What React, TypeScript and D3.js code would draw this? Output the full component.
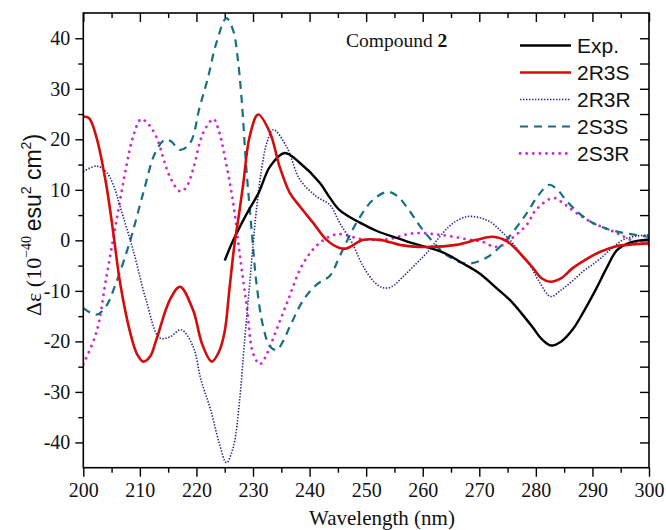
import React, { useEffect, useRef } from 'react'
import * as d3 from 'd3'

// CD spectra, [wavelength nm, delta epsilon]
const expData: [number, number][] = [
  [225, -4], [226.5, 0], [229, 5.5], [231, 9.4], [233, 14.6], [235.6, 17.3], [238.3, 15.3],
  [241.8, 11.4], [243.6, 8.4], [245.3, 6], [248.9, 3.5], [252, 1.8], [255.4, 0.5], [258, -0.5],
  [261.2, -1.5], [264, -2.6], [267, -4.5], [270, -6.5], [273, -9.4], [275.4, -11.8], [277.5, -14.5],
  [279.5, -17.3], [281, -19.5], [282.7, -20.8], [284.5, -20], [286.6, -17.5], [288.5, -14],
  [290.7, -9.5], [292.5, -5.5], [294.3, -2], [296.5, -0.5], [300, 0.2]
]

const r3sData: [number, number][] = [
  [200, 24.5], [201, 24.2], [202.3, 20.5], [204, 11.4], [205.3, 1.5], [206.5, -8.4], [208.3, -18.3],
  [209.5, -22.5], [210.6, -24], [211.8, -23], [212.9, -19.7], [215.3, -11.8], [217.1, -9.2],
  [219.4, -13.8], [221, -20.5], [222.7, -24], [224, -22], [225, -18], [225.8, -10], [226.7, -1],
  [227.5, 5], [228.3, 11.4], [229.4, 20.5], [230.9, 24.9], [233, 21.3], [234.7, 14.6], [236.5, 9.4],
  [238.3, 6.7], [240.6, 3.5], [243, 0.1], [245.3, -1.5], [246.5, -1.6], [249.5, 0.1], [252.4, 0.1],
  [256.5, -1], [261.2, -1.3], [265.9, -0.9], [269.5, 0.1], [272.4, 0.7], [274.9, -0.2], [277.7, -3.2],
  [279.5, -5.5], [281, -7.5], [282.6, -8.2], [284.5, -7.5], [286.5, -5.5], [288.8, -3.8],
  [291.5, -2.2], [294.1, -1.2], [297, -0.8], [300, -0.6]
]

const r3rData: [number, number][] = [
  [200, 13.6], [202.3, 14.7], [204, 13.6], [205.3, 11], [206.5, 6.7], [208.8, -1.9], [211.1, -11.8],
  [213.5, -19.3], [215.3, -19.1], [217.3, -17.7], [219.4, -21], [220.8, -27.6], [222.5, -33.5],
  [224, -40], [225.3, -44], [226.5, -41], [227.6, -32], [228.5, -20], [229.3, -10], [230, -1],
  [230.6, 6], [231.5, 14], [232.5, 19.5], [233.6, 21.9], [235.9, 18.6], [238.3, 12], [241.2, 8.7],
  [243.6, 7], [245.3, 3.5], [247.5, -0.5], [249.5, -5.2], [251.5, -8.3], [253, -9.4], [254.5, -9.2],
  [256.5, -7.2], [258.5, -5], [260.7, -2.5], [263.6, 1.5], [265.5, 3.5], [267.8, 4.7], [270, 4.5],
  [271.9, 3.7], [273.5, 2.2], [275.4, 0.1], [277.5, -2.8], [278.9, -4.8], [280.5, -8], [282.6, -11.1],
  [284.5, -9.8], [286.5, -8], [288.5, -6], [290, -4.8], [291.5, -3.5], [293.5, -1.5], [295.4, 0.1],
  [297.5, 0.8], [300, 1.1]
]

const s3sData: [number, number][] = [
  [200, -13.4], [202.3, -14.7], [204, -13.1], [205.8, -8.4], [208.3, 0], [210.6, 9.4], [212.7, 17.3],
  [214.4, 19.9], [215.5, 19.6], [217.1, 17.9], [218.9, 19.3], [220.6, 26.5], [222, 32], [223.5, 39],
  [225.3, 44], [226.5, 41.5], [227.3, 36], [228, 27.8], [228.8, 14.6], [229.8, 1.5], [230.6, -8.4],
  [231.8, -17.1], [233, -21], [234.2, -21.7], [235.3, -20], [236.5, -17.1], [238.9, -11.8],
  [241.2, -8.8], [243.6, -7], [245.3, -3.2], [248.3, 3.5], [251.2, 8], [253.8, 9.6], [255.5, 8.8],
  [257.1, 6.7], [260, 2.1], [262, -0.5], [264.2, -2.9], [267.8, -4.6], [271.3, -3.4], [274.8, 0.1],
  [278.4, 5.4], [280.5, 9], [282.4, 11], [284, 9.8], [285.3, 8], [287.5, 5.5], [290, 3.5],
  [292.5, 2.3], [295.4, 1.5], [298, 1], [300, 0.7]
]

const s3rData: [number, number][] = [
  [200, -24.5], [202.3, -18.3], [204, -7.8], [205.8, 3.5], [207.6, 14.6], [208.8, 20.5], [210.2, 24],
  [211.5, 23], [212.9, 20.5], [215.3, 12.6], [217.1, 9.7], [218.2, 10.5], [219.4, 14], [221.2, 21.3],
  [223, 24], [224, 21.5], [225, 16.6], [226.5, 7.4], [227.7, -3.2], [228.9, -13.1], [230, -22.3],
  [231.2, -24.5], [232, -23.5], [233, -21], [236, -12.4], [238.9, -4.5], [241.8, -0.5], [244.8, 1.2],
  [249.5, 0.2], [253.7, 0.2], [258.3, 1.4], [263.1, 1.1], [268.4, 0.1], [270.6, -0.3], [272.4, -1.2],
  [273.6, -1.2], [275.4, 0.1], [278.4, 3.1], [280, 6], [283.1, 8.4], [285, 7.2], [287.2, 5.4],
  [290, 3.5], [294.2, 1.5], [297, 0], [300, -0.9]
]

const seriesNames = ['Exp.', '2R3S', '2R3R', '2S3S', '2S3R']
const xTicks = [200, 210, 220, 230, 240, 250, 260, 270, 280, 290, 300]
const yTicks = [-40, -30, -20, -10, 0, 10, 20, 30, 40]

const styles = [
  { color: '#000000', width: 2.4, dash: null, cap: 'butt' },
  { color: '#d40c0c', width: 2.6, dash: null, cap: 'butt' },
  { color: '#26268f', width: 1.6, dash: '1.4,1.6', cap: 'butt' },
  { color: '#17707c', width: 2.2, dash: '8,6', cap: 'butt' },
  { color: '#cc2ccc', width: 2.8, dash: '0.1,6.5', cap: 'round' }
]

const serif = "'Liberation Serif', 'Times New Roman', Times, serif"
const sans = "'Liberation Sans', Arial, Helvetica, sans-serif"

export default function App() {
  const svgRef = useRef<SVGSVGElement>(null)

  useEffect(() => {
    const W = 666
    const H = 530
    const left = 83.3
    const right = 649
    const top = 13
    const bottom = 467.7

    const svg = d3.select(svgRef.current)
    svg.selectAll('*').remove()

    const x = d3.scaleLinear().domain([200, 300]).range([left, right])
    const y = d3.scaleLinear().domain([-45, 45]).range([bottom, top])

    svg.append('rect').attr('width', W).attr('height', H).attr('fill', '#fff')

    svg.append('clipPath').attr('id', 'plot-clip')
      .append('rect')
      .attr('x', left).attr('y', top)
      .attr('width', right - left).attr('height', bottom - top)

    // curves
    const line = d3.line<[number, number]>()
      .x(d => x(d[0]))
      .y(d => y(d[1]))
      .curve(d3.curveCatmullRom.alpha(0.5))

    const allData = [expData, r3sData, r3rData, s3sData, s3rData]
    const order = [4, 3, 2, 0, 1]
    order.forEach(i => {
      const s = styles[i]
      svg.append('path')
        .datum(allData[i])
        .attr('clip-path', 'url(#plot-clip)')
        .attr('d', line)
        .attr('fill', 'none')
        .attr('stroke', s.color)
        .attr('stroke-width', s.width)
        .attr('stroke-dasharray', s.dash)
        .attr('stroke-linecap', s.cap)
        .attr('stroke-linejoin', 'round')
    })

    // axes
    const minorX = d3.range(205, 300, 10)
    const minorY = d3.range(-35, 40, 10)
    const styleAxis = (g: any) => {
      g.attr('font-family', serif).attr('font-size', 20)
      g.select('.domain').remove()
      g.selectAll('line').attr('stroke', '#000').attr('stroke-width', 1.4)
      g.selectAll('text').attr('fill', '#111')
    }

    svg.append('g').attr('transform', `translate(0,${bottom})`)
      .call(d3.axisBottom(x).tickValues(xTicks).tickSize(9).tickPadding(6).tickFormat(d3.format('d')))
      .call(styleAxis)
    svg.append('g').attr('transform', `translate(0,${bottom})`)
      .call(d3.axisBottom(x).tickValues(minorX).tickSize(5).tickFormat(() => ''))
      .call(styleAxis)
    svg.append('g').attr('transform', `translate(0,${top})`)
      .call(d3.axisTop(x).tickValues(xTicks).tickSize(-9).tickFormat(() => ''))
      .call(styleAxis)
    svg.append('g').attr('transform', `translate(0,${top})`)
      .call(d3.axisTop(x).tickValues(minorX).tickSize(-5).tickFormat(() => ''))
      .call(styleAxis)
    svg.append('g').attr('transform', `translate(${left},0)`)
      .call(d3.axisLeft(y).tickValues(yTicks).tickSize(8).tickPadding(5).tickFormat(d => String(d)))
      .call(styleAxis)
    svg.append('g').attr('transform', `translate(${left},0)`)
      .call(d3.axisLeft(y).tickValues(minorY).tickSize(5).tickFormat(() => ''))
      .call(styleAxis)
    svg.append('g').attr('transform', `translate(${right},0)`)
      .call(d3.axisRight(y).tickValues(yTicks.concat(minorY)).tickSize(-9).tickFormat(() => ''))
      .call(styleAxis)

    svg.append('rect')
      .attr('x', left).attr('y', top)
      .attr('width', right - left).attr('height', bottom - top)
      .attr('fill', 'none').attr('stroke', '#000').attr('stroke-width', 1.6)

    // axis titles
    svg.append('text')
      .attr('x', 382).attr('y', 525)
      .attr('text-anchor', 'middle')
      .attr('font-family', serif).attr('font-size', 21).attr('fill', '#111')
      .text('Wavelength (nm)')

    const yl = svg.append('text')
      .attr('transform', 'translate(41,225) rotate(-90)')
      .attr('text-anchor', 'middle')
      .attr('fill', '#111')
    yl.append('tspan').attr('font-family', serif).attr('font-size', 22).text('\u0394\u03b5 (10')
    yl.append('tspan').attr('font-family', serif).attr('font-size', 14).attr('dy', -10).text('\u221240')
    yl.append('tspan').attr('font-family', sans).attr('font-size', 23).attr('dy', 10).text('\u2009esu')
    yl.append('tspan').attr('font-family', sans).attr('font-size', 14).attr('dy', -10).text('2')
    yl.append('tspan').attr('font-family', sans).attr('font-size', 23).attr('dy', 10).text(' cm')
    yl.append('tspan').attr('font-family', sans).attr('font-size', 14).attr('dy', -10).text('2')
    yl.append('tspan').attr('font-family', sans).attr('font-size', 23).attr('dy', 10).text(')')

    // annotation
    const ann = svg.append('text')
      .attr('x', 346).attr('y', 47)
      .attr('font-family', serif).attr('font-size', 19.5).attr('fill', '#111')
    ann.append('tspan').text('Compound ')
    ann.append('tspan').attr('font-weight', 'bold').text('2')

    // legend
    const legend = svg.append('g')
    seriesNames.forEach((name, i) => {
      const s = styles[i]
      const by = 53 + i * 27
      legend.append('line')
        .attr('x1', 520).attr('x2', 571)
        .attr('y1', by - 7.5).attr('y2', by - 7.5)
        .attr('stroke', s.color)
        .attr('stroke-width', s.width)
        .attr('stroke-dasharray', s.dash)
        .attr('stroke-linecap', s.cap)
      legend.append('text')
        .attr('x', 577).attr('y', by)
        .attr('font-family', sans).attr('font-size', 21).attr('fill', '#111')
        .text(name)
    })
  }, [])

  return (
    <svg
      ref={svgRef}
      width={666}
      height={530}
      style={{ position: 'absolute', left: 0, top: 0, display: 'block' }}
    />
  )
}
